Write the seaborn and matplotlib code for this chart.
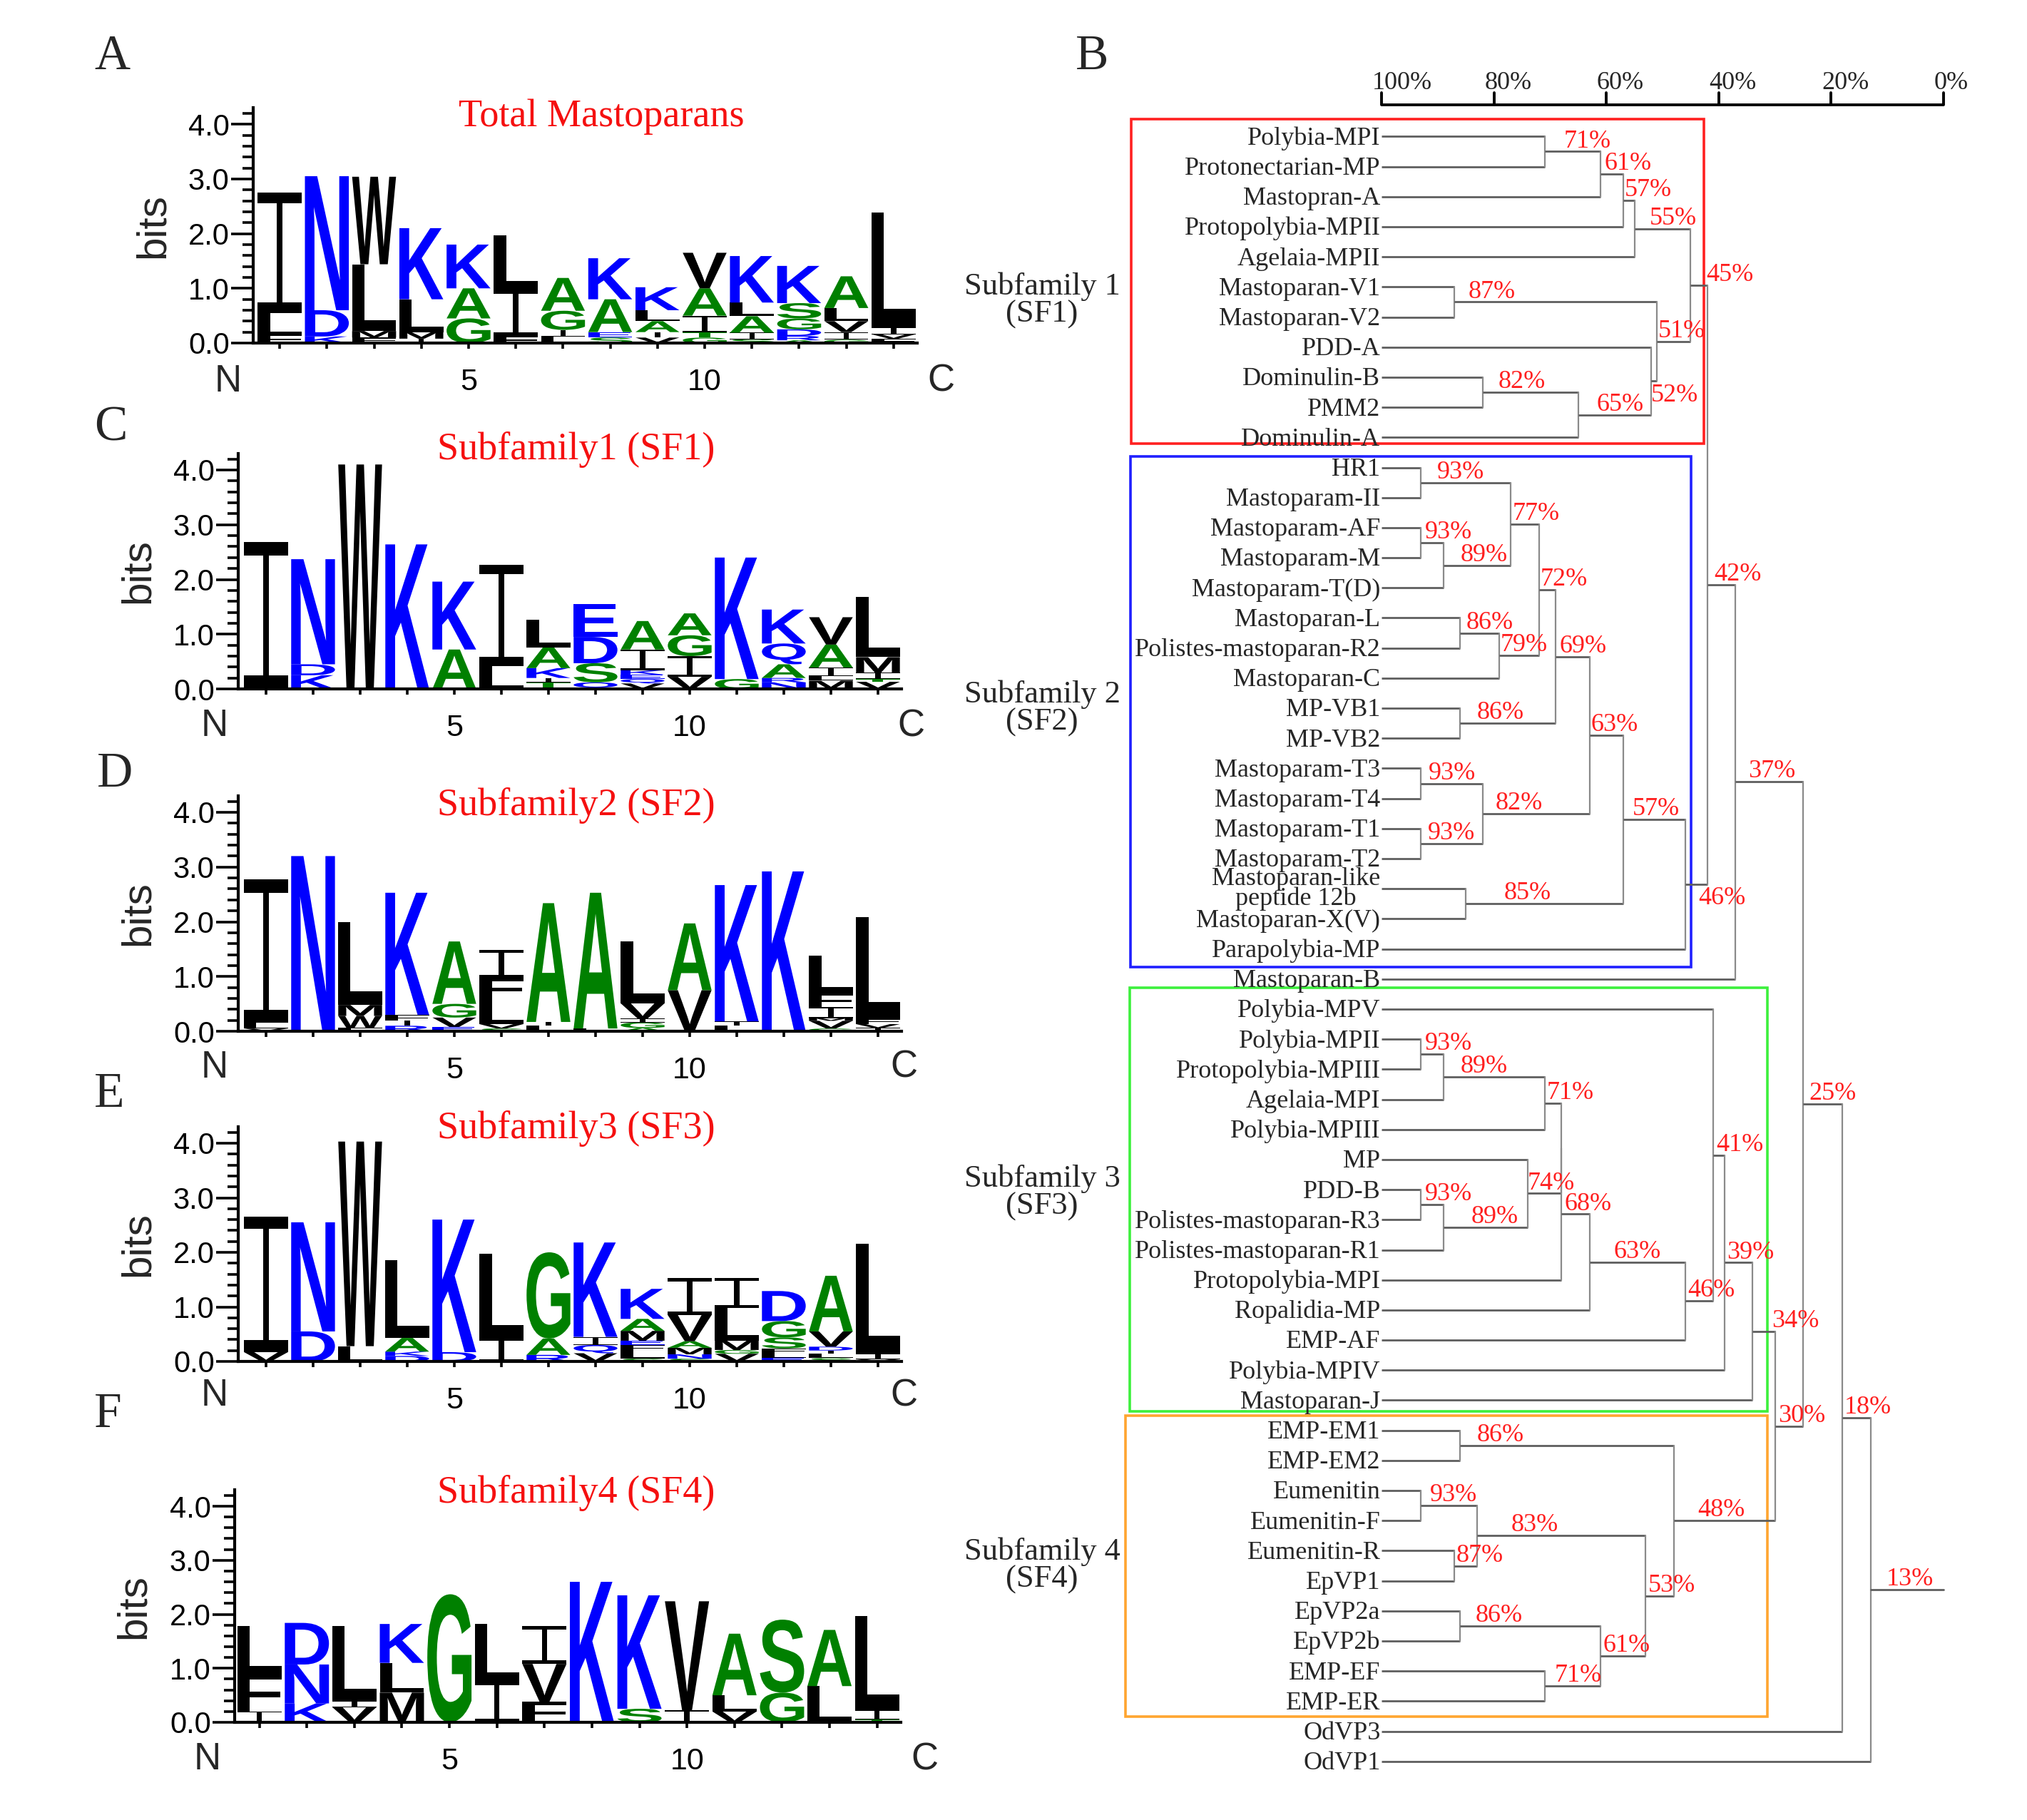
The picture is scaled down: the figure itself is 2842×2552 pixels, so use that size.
import matplotlib
matplotlib.use("Agg")
import matplotlib.pyplot as plt
import matplotlib.transforms as mtransforms
from matplotlib.textpath import TextPath
from matplotlib.path import Path
from matplotlib.patches import PathPatch, Rectangle
from matplotlib.font_manager import FontProperties
from matplotlib.ticker import FixedLocator, MultipleLocator
import seaborn as sns

sns.set_theme(style="ticks")
plt.rcParams["font.family"] = ["Liberation Sans", "DejaVu Sans"]
SERIF = ["Liberation Serif", "DejaVu Serif"]

# ---------------------------------------------------------------- data
logo_titles = ["Total Mastoparans", "Subfamily1 (SF1)", "Subfamily2 (SF2)",
               "Subfamily3 (SF3)", "Subfamily4 (SF4)"]
panel_letters = ["A", "C", "D", "E", "F"]

# stacks per position (bottom -> top): (residue, bits)
logo_total = [
    [("F", 0.15), ("L", 0.40), ("I", 2.20)],
    [("K", 0.12), ("D", 0.48), ("N", 2.45)],
    [("F", 0.10), ("M", 0.12), ("L", 1.22), ("W", 1.60)],
    [("I", 0.08), ("M", 0.12), ("L", 0.60), ("K", 1.30)],
    [("G", 0.45), ("A", 0.55), ("K", 0.80)],
    [("F", 0.12), ("I", 0.85), ("L", 1.00)],
    [("L", 0.12), ("I", 0.12), ("G", 0.35), ("A", 0.60)],
    [("S", 0.10), ("E", 0.10), ("A", 0.60), ("K", 0.75)],
    [("V", 0.10), ("I", 0.10), ("A", 0.20), ("L", 0.20), ("K", 0.42)],
    [("G", 0.10), ("T", 0.10), ("I", 0.30), ("A", 0.50), ("V", 0.65)],
    [("S", 0.07), ("I", 0.12), ("A", 0.30), ("L", 0.25), ("K", 0.85)],
    [("A", 0.05), ("R", 0.08), ("D", 0.12), ("G", 0.20), ("S", 0.28), ("K", 0.68)],
    [("G", 0.06), ("I", 0.14), ("V", 0.20), ("L", 0.24), ("A", 0.58)],
    [("F", 0.08), ("V", 0.08), ("I", 0.12), ("L", 2.10)],
]
logo_sf1 = [
    [("I", 2.68)],
    [("K", 0.25), ("D", 0.20), ("N", 1.92)],
    [("W", 4.10)],
    [("K", 2.64)],
    [("A", 0.72), ("K", 1.24)],
    [("L", 0.42), ("I", 1.85)],
    [("T", 0.12), ("I", 0.08), ("K", 0.18), ("A", 0.38), ("L", 0.50)],
    [("Q", 0.12), ("S", 0.35), ("D", 0.48), ("E", 0.60)],
    [("V", 0.10), ("Q", 0.08), ("E", 0.08), ("K", 0.08), ("I", 0.38), ("A", 0.52)],
    [("V", 0.22), ("I", 0.38), ("G", 0.38), ("A", 0.40)],
    [("G", 0.18), ("K", 2.22)],
    [("N", 0.12), ("R", 0.08), ("A", 0.25), ("Q", 0.38), ("K", 0.62)],
    [("M", 0.15), ("L", 0.08), ("I", 0.16), ("A", 0.42), ("V", 0.50)],
    [("V", 0.13), ("T", 0.05), ("I", 0.12), ("M", 0.28), ("L", 1.10)],
]
logo_sf2 = [
    [("V", 0.05), ("L", 0.10), ("I", 2.62)],
    [("N", 3.20)],
    [("F", 0.06), ("W", 0.22), ("M", 0.20), ("L", 1.52)],
    [("R", 0.10), ("I", 0.10), ("F", 0.10), ("K", 2.23)],
    [("E", 0.08), ("V", 0.17), ("G", 0.25), ("A", 1.14)],
    [("S", 0.05), ("V", 0.08), ("L", 0.45), ("F", 0.40), ("I", 0.50)],
    [("L", 0.10), ("I", 0.07), ("A", 2.17)],
    [("L", 0.05), ("A", 2.48)],
    [("A", 0.06), ("G", 0.10), ("I", 0.07), ("V", 0.28), ("L", 1.13)],
    [("V", 0.75), ("A", 1.22)],
    [("L", 0.10), ("I", 0.08), ("K", 2.49)],
    [("K", 2.92)],
    [("G", 0.05), ("V", 0.14), ("M", 0.05), ("I", 0.20), ("F", 0.26), ("L", 0.68)],
    [("I", 0.06), ("V", 0.07), ("F", 0.10), ("L", 1.85)],
]
logo_sf3 = [
    [("V", 0.17), ("I", 2.49)],
    [("D", 0.55), ("N", 2.00)],
    [("L", 0.28), ("W", 3.75)],
    [("D", 0.10), ("K", 0.08), ("A", 0.25), ("L", 1.42)],
    [("D", 0.17), ("K", 2.43)],
    [("I", 0.42), ("L", 1.56)],
    [("R", 0.12), ("A", 0.30), ("G", 1.58)],
    [("V", 0.15), ("Q", 0.15), ("I", 0.15), ("K", 1.73)],
    [("S", 0.05), ("L", 0.15), ("F", 0.10), ("E", 0.08), ("M", 0.18), ("A", 0.22), ("K", 0.55)],
    [("S", 0.05), ("N", 0.08), ("M", 0.12), ("A", 0.12), ("V", 0.48), ("I", 0.68)],
    [("V", 0.14), ("G", 0.07), ("M", 0.17), ("L", 0.60), ("I", 0.55)],
    [("E", 0.06), ("L", 0.08), ("F", 0.10), ("S", 0.20), ("G", 0.30), ("D", 0.55)],
    [("S", 0.06), ("L", 0.08), ("I", 0.06), ("D", 0.07), ("V", 0.28), ("A", 1.02)],
    [("V", 0.04), ("I", 0.10), ("L", 2.02)],
]
logo_sf4 = [
    [("I", 0.20), ("F", 0.70), ("L", 0.88)],
    [("K", 0.35), ("N", 0.72), ("D", 0.77)],
    [("V", 0.28), ("I", 0.12), ("L", 1.38)],
    [("M", 0.55), ("L", 0.55), ("K", 0.72)],
    [("G", 2.37)],
    [("I", 0.75), ("L", 1.07)],
    [("F", 0.38), ("V", 0.70), ("I", 0.70)],
    [("K", 2.60)],
    [("S", 0.25), ("K", 2.10)],
    [("I", 0.22), ("V", 2.02)],
    [("V", 0.20), ("L", 0.30), ("A", 1.14)],
    [("G", 0.55), ("S", 1.35)],
    [("L", 0.67), ("A", 1.04)],
    [("T", 0.05), ("I", 0.18), ("L", 1.74)],
]
logos = [logo_total, logo_sf1, logo_sf2, logo_sf3, logo_sf4]
y_ticks = [0, 1, 2, 3, 4]
y_ticklabels = ["0.0", "1.0", "2.0", "3.0", "4.0"]

# dendrogram
leaf_names = [
    "Polybia-MPI", "Protonectarian-MP", "Mastopran-A", "Protopolybia-MPII", "Agelaia-MPII",
    "Mastoparan-V1", "Mastoparan-V2", "PDD-A", "Dominulin-B", "PMM2", "Dominulin-A",
    "HR1", "Mastoparam-II", "Mastoparam-AF", "Mastoparam-M", "Mastoparam-T(D)",
    "Mastoparan-L", "Polistes-mastoparan-R2", "Mastoparan-C", "MP-VB1", "MP-VB2",
    "Mastoparam-T3", "Mastoparam-T4", "Mastoparam-T1", "Mastoparam-T2",
    "Mastoparan-like\npeptide 12b", "Mastoparan-X(V)", "Parapolybia-MP", "Mastoparan-B",
    "Polybia-MPV", "Polybia-MPII", "Protopolybia-MPIII", "Agelaia-MPI", "Polybia-MPIII",
    "MP", "PDD-B", "Polistes-mastoparan-R3", "Polistes-mastoparan-R1", "Protopolybia-MPI",
    "Ropalidia-MP", "EMP-AF", "Polybia-MPIV", "Mastoparan-J",
    "EMP-EM1", "EMP-EM2", "Eumenitin", "Eumenitin-F", "Eumenitin-R", "EpVP1",
    "EpVP2a", "EpVP2b", "EMP-EF", "EMP-ER", "OdVP3", "OdVP1",
]
# merges: node k is called "n{k}"
merge_a = ["Polybia-MPI", "n0", "n1", "n2", "Mastoparan-V1", "Dominulin-B", "n5", "PDD-A", "n4", "n3",
           "HR1", "Mastoparam-AF", "n11", "n10", "Mastoparan-L", "n14", "n13", "MP-VB1", "n16",
           "Mastoparam-T3", "Mastoparam-T1", "n19", "n18", "Mastoparan-like\npeptide 12b", "n22",
           "n24", "n9", "n26",
           "Polybia-MPII", "n28", "n29", "PDD-B", "n31", "MP", "n30", "n34", "n35", "n36",
           "Polybia-MPV", "n38", "n39",
           "EMP-EM1", "Eumenitin", "Eumenitin-R", "n42", "EpVP2a", "EMP-EF", "n45", "n44", "n41",
           "n40", "n27", "n51", "n52"]
merge_b = ["Protonectarian-MP", "Mastopran-A", "Protopolybia-MPII", "Agelaia-MPII", "Mastoparan-V2",
           "PMM2", "Dominulin-A", "n6", "n7", "n8",
           "Mastoparam-II", "Mastoparam-M", "Mastoparam-T(D)", "n12", "Polistes-mastoparan-R2",
           "Mastoparan-C", "n15", "MP-VB2", "n17", "Mastoparam-T4", "Mastoparam-T2", "n20", "n21",
           "Mastoparan-X(V)", "n23", "Parapolybia-MP", "n25", "Mastoparan-B",
           "Protopolybia-MPIII", "Agelaia-MPI", "Polybia-MPIII", "Polistes-mastoparan-R3",
           "Polistes-mastoparan-R1", "n32", "n33", "Protopolybia-MPI", "Ropalidia-MP", "EMP-AF",
           "n37", "Polybia-MPIV", "Mastoparan-J",
           "EMP-EM2", "Eumenitin-F", "EpVP1", "n43", "EpVP2b", "EMP-ER", "n46", "n47", "n48",
           "n49", "n50", "OdVP3", "OdVP1"]
merge_pct = [71, 61, 57, 55, 87, 82, 65, 52, 51, 45,
             93, 93, 89, 77, 86, 79, 72, 86, 69, 93, 93, 82, 63, 85, 57, 46, 42, 37,
             93, 89, 71, 93, 89, 74, 68, 68, 63, 46, 41, 39, 34,
             86, 93, 87, 83, 86, 71, 61, 53, 48, 30, 25, 18, 13]
merge_show_label = [True] * len(merge_pct)
merge_show_label[34] = False

subfamily_labels = ["Subfamily 1\n(SF1)", "Subfamily 2\n(SF2)", "Subfamily 3\n(SF3)", "Subfamily 4\n(SF4)"]
scale_ticks = [100, 80, 60, 40, 20, 0]

# ---------------------------------------------------------------- styles / layout
label_dx = [3.4, 0.6, 0.25, 2.7, 2.4, 2.8, 3.3, 0.0, 0.25, 2.8,
            2.9, 0.7, 3.0, 0.25, 1.1, 0.1, 0.25, 3.0, 0.6, 1.3, 1.2, 2.2, 0.25, 6.8, 1.6, 2.4, 1.2, 2.3,
            0.7, 3.0, 0.4, 0.7, 4.9, 0.0, 0.0, 0.6, 4.3, 0.5, 0.6, 0.4, 3.4,
            3.0, 1.6, 0.25, 6.1, 2.7, 1.8, 0.4, 0.4, 4.3, 0.6, 1.0, 0.4, 2.8]
label_below = {7, 25}

BLUE, GREEN, BLACK = "#0000ff", "#008000", "#000000"
res_color = {}
for c in "KRHDENQ":
    res_color[c] = BLUE
for c in "AGSTCPY":
    res_color[c] = GREEN
for c in "ILVMFW":
    res_color[c] = BLACK

W, H, DPI = 2842, 2552, 200
fig = plt.figure(figsize=(W / DPI, H / DPI), dpi=DPI)
fig.patch.set_facecolor("white")


def rect(l, t, r, b):
    return [l / W, 1 - b / H, (r - l) / W, (b - t) / H]


FP_SANS = FontProperties(family="Liberation Sans", weight="bold")
_cache = {}

# WebLogo-style "I": full-width bars with a thin stem (unit box glyph shape)
_t, _s = 0.09, 0.12
I_PATH = Path([(0, 0), (1, 0), (1, _t), (0.5 + _s / 2, _t), (0.5 + _s / 2, 1 - _t), (1, 1 - _t),
               (1, 1), (0, 1), (0, 1 - _t), (0.5 - _s / 2, 1 - _t), (0.5 - _s / 2, _t), (0, _t),
               (0, 0)], closed=True)


def glyph(ch):
    if ch not in _cache:
        if ch == "I":
            tp = I_PATH
        else:
            tp = TextPath((0, 0), ch, size=1, prop=FP_SANS)
        _cache[ch] = (tp, tp.get_extents())
    return _cache[ch]


def draw_letter(ax, ch, x, y, w, h, color):
    tp, bb = glyph(ch)
    t = (mtransforms.Affine2D().translate(-bb.x0, -bb.y0)
         .scale(w / bb.width, h / bb.height).translate(x - w / 2, y))
    ax.add_patch(PathPatch(t.transform_path(tp), lw=0, fc=color, ec="none"))


# left, right, y0 px, px per bit, xlim0, title_x, title_y, C_x, NC_y
logo_layout = [
    (355, 1286, 481, 76.7, 0.44, 7.81, 3.97, 15.0, -0.70),
    (334, 1264, 966, 76.75, 0.41, 7.59, 4.19, 14.7, -0.68),
    (334, 1264, 1446, 76.75, 0.41, 7.59, 3.95, 14.55, -0.66),
    (334, 1264, 1909, 76.5, 0.41, 7.59, 4.09, 14.55, -0.63),
    (329, 1263, 2415, 75.75, 0.48, 7.67, 4.06, 15.0, -0.69),
]
YMAX = 4.3

for li, (stacks, lay) in enumerate(zip(logos, logo_layout)):
    left, right, y0, ppb, x0, tx, ty, cx, ncy = lay
    ax = fig.add_axes(rect(left, y0 - YMAX * ppb, right, y0))
    ax.set_facecolor("white")
    ax.set_xlim(x0, 14.5)
    ax.set_ylim(0, YMAX)
    for i, stack in enumerate(stacks):
        ybase = 0.0
        for ch, h in stack:
            draw_letter(ax, ch, i + 1, ybase, 0.93, h, res_color[ch])
            ybase += h
    sns.despine(ax=ax)
    for s in ("left", "bottom"):
        ax.spines[s].set_linewidth(1.5)
        ax.spines[s].set_color("black")
    ax.yaxis.set_major_locator(FixedLocator(y_ticks))
    ax.set_yticklabels(y_ticklabels)
    ax.yaxis.set_minor_locator(MultipleLocator(0.2))
    ax.tick_params(axis="y", which="major", length=11, width=1.3, labelsize=15, pad=1,
                   direction="out", color="black", labelcolor="black")
    ax.tick_params(axis="y", which="minor", length=5.5, width=1.3, direction="out", color="black")
    positions = list(range(1, 15))
    ax.xaxis.set_major_locator(FixedLocator(positions))
    ax.set_xticklabels([str(p) if p in (5, 10) else "" for p in positions])
    ax.tick_params(axis="x", which="major", length=3, width=1.3, labelsize=15.5, pad=9.5,
                   direction="out", color="black", labelcolor="black")
    ax.tick_params(axis="x", which="minor", length=0)
    ax.grid(False)
    ax.text(-0.1, ncy, "N", ha="center", va="center", fontsize=19, clip_on=False)
    ax.text(cx, ncy, "C", ha="center", va="center", fontsize=19, clip_on=False)
    ax.text(-0.151, 0.5, "bits", transform=ax.transAxes, rotation=90, ha="center",
            va="center", fontsize=21)
    ax.text(tx, ty, logo_titles[li], ha="center", va="baseline", color="#f51010",
            fontsize=19.5, family=SERIF, clip_on=False)

# panel letters
for lab, (px, py) in zip(panel_letters + ["B"],
                         [(132, 97), (132, 618), (136, 1103), (132, 1552), (132, 2001), (1508, 97)]):
    fig.text(px / W, 1 - py / H, lab, ha="left", va="baseline", fontsize=25, family=SERIF)

# ---------------------------------------------------------------- dendrogram
dax = fig.add_axes(rect(1937, 107, 2725, 2512))
dax.set_xlim(100, 0)
dax.set_ylim(55, -2)
dax.axis("off")

HCOL, VCOL = "#5e5e5e", "#8a8a8a"
ypos = {n: i for i, n in enumerate(leaf_names)}
xpos = {n: 100.0 for n in leaf_names}
for k, (a, b, p) in enumerate(zip(merge_a, merge_b, merge_pct)):
    ya, yb = ypos[a], ypos[b]
    dax.plot([xpos[a], p], [ya, ya], color=HCOL, lw=1.0, solid_capstyle="butt", clip_on=False)
    dax.plot([xpos[b], p], [yb, yb], color=HCOL, lw=1.0, solid_capstyle="butt", clip_on=False)
    dax.plot([p, p], [ya, yb], color=VCOL, lw=0.8, clip_on=False)
    ym = (ya + yb) / 2
    name = "n%d" % k
    ypos[name], xpos[name] = ym, p
    if merge_show_label[k]:
        if k in label_below:
            dax.text(p - label_dx[k], ym + 0.08, "%d%%" % p, ha="left", va="top",
                     color="#ff1f1f", fontsize=13, family=SERIF, clip_on=False)
        else:
            dax.text(p - label_dx[k], ym - 0.14, "%d%%" % p, ha="left", va="baseline",
                     color="#ff1f1f", fontsize=13, family=SERIF, clip_on=False)
root = "n%d" % (len(merge_pct) - 1)
dax.plot([xpos[root], 0], [ypos[root]] * 2, color=HCOL, lw=1.0, clip_on=False)

for i, n in enumerate(leaf_names):
    if "\n" in n:
        dax.text(100.2, i, n, ha="right", va="center", multialignment="center",
                 linespacing=0.78, fontsize=13, family=SERIF, clip_on=False)
    else:
        dax.text(100.2, i + 0.27, n, ha="right", va="baseline", fontsize=13,
                 family=SERIF, clip_on=False)

# subfamily boxes (left pct, right pct, top idx, bottom idx)
boxes = [(144.6, 42.6, -0.58, 10.2, "#ff2020"),
         (144.7, 44.9, 10.63, 27.6, "#2020ff"),
         (144.85, 31.4, 28.3, 42.36, "#3cf03c"),
         (145.5, 31.4, 42.5, 52.5, "#ffa530")]
for (l, r, t, b, col) in boxes:
    dax.add_patch(Rectangle((l, t), r - l, b - t, fill=False, ec=col, lw=1.3,
                            clip_on=False, zorder=0.5))
for lab, yc in zip(subfamily_labels, [5.45, 19.0, 35.1, 47.5]):
    dax.text(160.4, yc, lab, ha="center", va="center", fontsize=16, linespacing=0.95,
             family=SERIF, clip_on=False)

# scale bar
ys = -1.057
dax.plot([100, 0], [ys, ys], color="black", lw=1.4, clip_on=False, solid_capstyle="butt")
for t in scale_ticks:
    dax.plot([t, t], [ys, -1.46], color="black", lw=1.4, clip_on=False)
    dax.text(t + 1.7, -1.57, "%d%%" % t, ha="left", va="baseline", fontsize=13,
             family=SERIF, clip_on=False)

fig.savefig("out.png", dpi=DPI, facecolor="white")
